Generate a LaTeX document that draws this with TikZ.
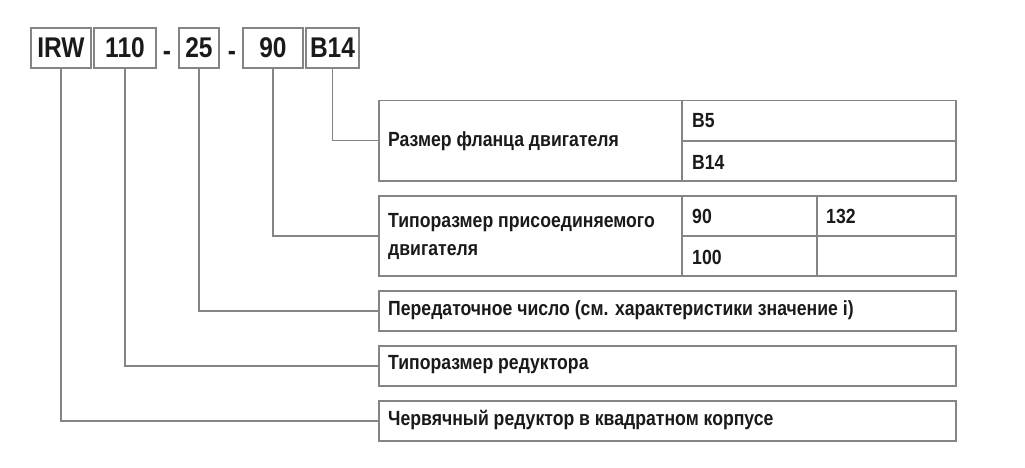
\documentclass[tikz,border=0pt]{standalone}
\usepackage{fontspec}
\setmainfont{Liberation Sans}[FakeStretch=0.86]
\usepackage{xcolor}
\definecolor{mgray}{HTML}{858585}
\definecolor{mtext}{HTML}{1A1A1A}
\usepackage{tikz}

\begin{document}
\begin{tikzpicture}[x=1pt, y=-1pt,
    code/.style={draw=mgray, line width=1.5pt, minimum height=40pt, inner sep=0pt, text=mtext, font=\fontsize{28.5}{30}\selectfont\bfseries},
    desc/.style={draw=mgray, line width=1.5pt, minimum width=577pt, inner sep=0pt, anchor=north west},
    txt/.style={anchor=west, inner sep=0pt, text=mtext, align=left, font=\fontsize{20.5}{28}\selectfont\bfseries},
    link/.style={mgray, line width=1.5pt}]
        \useasboundingbox (0, 0) rectangle (1025, 468);
        % code boxes
        \node[code, minimum width=60pt] (irw) at (61, 48) {IRW};
        \node[code, minimum width=62pt] (size) at (125, 48) {110};
        \node[code, minimum width=40pt] (ratio) at (199, 48) {25};
        \node[code, minimum width=60pt] (motor) at (273, 48) {90};
        \node[code, minimum width=53pt] (flange) at (332.5, 48) {B14};
        \node[code, draw=none] (dash1) at (167, 56) {-};
        \node[code, draw=none] (dash2) at (232, 56) {-};

        % description boxes
        \node[desc, minimum height=80pt] (flangebox) at (378, 100) {};
        \node[desc, minimum height=80pt] (motorbox) at (378, 195) {};
        \node[desc, minimum height=40pt] (ratiobox) at (378, 290) {};
        \node[desc, minimum height=40pt] (sizebox) at (378, 345) {};
        \node[desc, minimum height=40pt] (irwbox) at (378, 400) {};
        \draw[link] (682, 100) -- (682, 180);
        \draw[link] (682, 141) -- (955, 141);
        \draw[link] (682, 195) -- (682, 275);
        \draw[link] (817, 195) -- (817, 275);
        \draw[link] (682, 236) -- (955, 236);

        % texts
        \node[txt] (flangetxt) at (388, 141) {Размер фланца двигателя};
        \node[txt] (b5) at (692, 121) {B5};
        \node[txt] (b14) at (692, 162) {B14};
        \node[txt] (motortxt) at (388, 236) {Типоразмер присоединяемого\\двигателя};
        \node[txt] (m90) at (692, 216) {90};
        \node[txt] (m132) at (826, 216) {132};
        \node[txt] (m100) at (692, 257) {100};
        \node[txt] (ratiotxt) at (388, 310) {Передаточное число (см. характеристики значение i)};
        \node[txt] (sizetxt) at (388, 365) {Типоразмер редуктора};
        \node[txt] (irwtxt) at (388, 420) {Червячный редуктор в квадратном корпусе};

        % connectors
        \draw[link] (flange.south) |- (flangebox.west);
        \draw[link] (motor.south) |- (motorbox.west);
        \draw[link] (ratio.south) |- (ratiobox.west);
        \draw[link] (size.south) |- (sizebox.west);
        \draw[link] (irw.south) |- (irwbox.west);

    \end{tikzpicture}
\end{document}
